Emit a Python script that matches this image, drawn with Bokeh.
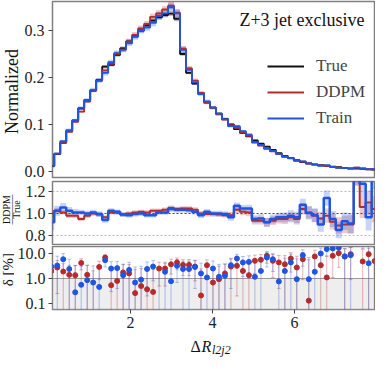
import numpy as np
from math import pi
from bokeh.plotting import figure
from bokeh.layouts import column, row
from bokeh.models import (Range1d, FixedTicker, Span, BoxAnnotation, Label,
                          Legend, LegendItem)
from bokeh.core.properties import value
from bokeh.embed import file_html
from bokeh.resources import INLINE

# ---------------- data ----------------
bin_start = -0.003
bin_width = 0.146
n_bins = 55

true_vals = [0.012, 0.037, 0.061, 0.086, 0.108, 0.134, 0.152, 0.172, 0.195, 0.223,
             0.227, 0.248, 0.262, 0.277, 0.288, 0.300, 0.311, 0.321, 0.328, 0.333,
             0.336, 0.325, 0.250, 0.210, 0.187, 0.167, 0.147, 0.136, 0.123, 0.112,
             0.100, 0.090, 0.082, 0.075, 0.066, 0.059, 0.053, 0.046, 0.039, 0.033,
             0.029, 0.024, 0.020, 0.017, 0.015, 0.0135, 0.012, 0.0104, 0.009, 0.0078,
             0.0066, 0.006, 0.0054, 0.0045, 0.004]

ratio_ddpm = [1.00, 1.025, 1.01, 0.98, 0.98, 0.95, 0.98, 1.00, 0.99, 0.965,
              1.01, 1.01, 0.99, 1.00, 1.01, 1.015, 1.01, 1.025, 1.025, 1.035,
              1.05, 1.04, 1.045, 1.045, 1.035, 1.00, 0.995, 0.995, 0.99, 0.985,
              0.985, 1.034, 1.015, 1.01, 0.935, 0.935, 0.92, 0.935, 0.95, 0.95,
              0.965, 0.95, 1.04, 1.01, 0.98, 0.955, 0.98, 0.925, 0.89, 0.90,
              0.90, 1.35, 1.06, 1.10, 1.04]

ratio_train = [0.92, 1.025, 1.055, 1.025, 1.01, 1.01, 1.00, 1.01, 0.995, 0.94,
               1.025, 1.015, 0.99, 0.985, 0.995, 1.00, 0.985, 0.985, 1.01, 1.01,
               1.04, 1.035, 1.035, 1.03, 1.015, 0.985, 1.015, 1.00, 1.00, 0.995,
               0.965, 1.07, 1.045, 1.045, 0.95, 0.955, 0.92, 0.95, 0.965, 0.965,
               0.98, 0.965, 1.08, 1.005, 0.985, 0.90, 1.14, 0.95, 0.85, 0.93,
               0.91, 1.35, 1.27, 0.965, 1.35]

unc_true = [0.025, 0.018, 0.015, 0.015, 0.015, 0.015, 0.015, 0.015, 0.015, 0.015,
            0.015, 0.015, 0.015, 0.015, 0.015, 0.015, 0.015, 0.015, 0.015, 0.015,
            0.016, 0.016, 0.016, 0.016, 0.016, 0.017, 0.017, 0.018, 0.018, 0.019,
            0.02, 0.02, 0.021, 0.022, 0.023, 0.024, 0.025, 0.027, 0.029, 0.03,
            0.032, 0.034, 0.036, 0.038, 0.04, 0.042, 0.045, 0.048, 0.05, 0.055,
            0.06, 0.065, 0.07, 0.075, 0.08]

unc_ddpm = [0.03, 0.025, 0.02, 0.02, 0.02, 0.02, 0.02, 0.02, 0.02, 0.02,
            0.02, 0.02, 0.02, 0.02, 0.02, 0.02, 0.02, 0.02, 0.02, 0.02,
            0.022, 0.022, 0.022, 0.022, 0.022, 0.022, 0.022, 0.022, 0.022, 0.022,
            0.03, 0.03, 0.03, 0.035, 0.035, 0.035, 0.04, 0.04, 0.04, 0.045,
            0.045, 0.05, 0.05, 0.055, 0.06, 0.06, 0.065, 0.07, 0.075, 0.08,
            0.085, 0.09, 0.10, 0.11, 0.12]

unc_train = [0.07, 0.045, 0.04, 0.035, 0.03, 0.025, 0.025, 0.025, 0.025, 0.025,
             0.022, 0.022, 0.022, 0.022, 0.022, 0.022, 0.022, 0.022, 0.022, 0.022,
             0.025, 0.025, 0.025, 0.025, 0.025, 0.025, 0.025, 0.025, 0.025, 0.025,
             0.03, 0.03, 0.032, 0.035, 0.035, 0.038, 0.04, 0.04, 0.042, 0.045,
             0.05, 0.052, 0.055, 0.06, 0.062, 0.065, 0.07, 0.072, 0.075, 0.08,
             0.09, 0.10, 0.11, 0.12, 0.13]

delta_ddpm = [2.0, 2.75, 1.9, 1.4, 1.36, 4.2, 1.4, 0.03, 2.9, 6.9,
              0.54, 0.8, 1.75, 1.6, 0.26, 0.5, 0.37, 0.29, 2.5, 2.5,
              3.7, 4.4, 3.5, 3.5, 3.0, 0.21, 3.4, 0.69, 0.94, 1.6,
              3.0, 3.2, 2.0, 1.36, 5.1, 5.6, 8.1, 5.1, 4.4, 3.7,
              6.3, 2.75, 5.9, 0.13, 7.6, 3.4, 1.1, 8.1, 10.3, 7.6,
              9.4, 30.0, 4.8, 9.4, 5.0]

delta_train = [3.0, 3.3, 5.9, 2.4, 0.28, 0.56, 0.86, 0.69, 0.46, 5.4,
               2.5, 2.6, 1.36, 2.2, 0.69, 0.9, 2.4, 3.0, 0.04, 1.85,
               0.78, 3.2, 2.4, 2.4, 2.9, 1.6, 1.1, 2.5, 1.17, 1.28,
               3.4, 6.3, 4.4, 4.6, 1.17, 2.0, 6.9, 5.9, 0.76, 2.0,
               4.4, 0.94, 8.6, 0.94, 1.85, 10.0, 15.0, 16.0, 17.0, 7.6,
               8.6, 30.0, 27.0, 4.1, 30.0]

x_ticks = [2, 4, 6]
top_ticks = [0.0, 0.1, 0.2, 0.3]
ratio_ticks = [0.8, 1.0, 1.2]
delta_ticks = [0.1, 1.0, 10.0]

# ---------------- derived arrays ----------------
edges = bin_start + bin_width * np.arange(n_bins + 1)
left, right = edges[:-1], edges[1:]
centers = 0.5 * (left + right)
t = np.array(true_vals)
rd, rt = np.array(ratio_ddpm), np.array(ratio_train)
ud, ut, uT = np.array(unc_ddpm), np.array(unc_train), np.array(unc_true)
ddpm_vals = t * rd
train_vals = t * rt

FONT = "Liberation Serif"
C_TRUE, C_DDPM, C_TRAIN = "#111111", "#b52b2b", "#1f55e0"
TXT = "#111111"

xr = Range1d(0.1, 7.95)


def style(p, standoff=4):
    p.outline_line_color = "#808080"
    p.outline_line_width = 1.5
    p.xgrid.visible = False
    p.ygrid.visible = False
    p.background_fill_color = "white"
    p.border_fill_color = "white"
    for ax in p.axis:
        ax.axis_line_color = None
        ax.major_tick_out = 4
        ax.major_tick_in = 0
        ax.major_tick_line_color = "#444444"
        ax.minor_tick_line_color = None
        ax.major_label_text_font = FONT
        ax.major_label_text_font_size = "16px"
        ax.major_label_text_color = "#222222"
        ax.major_label_standoff = standoff


def gutter(w, h):
    g = figure(width=w, height=h, x_range=Range1d(0, w), y_range=Range1d(0, h),
               min_border=0, min_border_left=0, min_border_right=0,
               min_border_top=0, min_border_bottom=0,
               x_axis_location=None, y_axis_location=None,
               output_backend="svg", toolbar_location=None)
    g.outline_line_color = None
    g.grid.visible = False
    g.background_fill_color = "white"
    g.border_fill_color = "white"
    return g


def gtext(g, x, y, text, size, angle=0.0, align="center", baseline="middle", fstyle="normal"):
    g.text(x=[x], y=[y], text=[text], angle=angle, text_align=align,
           text_baseline=baseline, text_font=value(FONT), text_font_size=size,
           text_font_style=fstyle, text_color=TXT)


def stepy(v):
    return np.append(v, v[-1])

# ---------------- top panel ----------------
p1 = figure(width=354, height=180, x_range=xr, y_range=Range1d(-0.0128, 0.3617),
            output_backend="svg", toolbar_location=None,
            min_border_left=28, min_border_right=1, min_border_top=1, min_border_bottom=3)
style(p1)
p1.xaxis.visible = False
p1.yaxis.ticker = FixedTicker(ticks=top_ticks)
p1.yaxis.major_label_overrides = {0.0: "0.0", 0.1: "0.1", 0.2: "0.2", 0.3: "0.3"}

for vals, unc, col in [(t, uT, C_TRUE), (ddpm_vals, ud, C_DDPM), (train_vals, ut, C_TRAIN)]:
    p1.quad(left=left, right=right, bottom=vals * (1 - unc), top=vals * (1 + unc),
            fill_color=col, fill_alpha=0.28, line_color=None)
r_true = p1.step(edges, stepy(t), mode="after", line_color=C_TRUE, line_width=1.8)
r_ddpm = p1.step(edges, stepy(ddpm_vals), mode="after", line_color=C_DDPM, line_width=1.8)
r_train = p1.step(edges, stepy(train_vals), mode="after", line_color=C_TRAIN, line_width=1.8)

legend = Legend(items=[LegendItem(label="True", renderers=[r_true]),
                       LegendItem(label="DDPM", renderers=[r_ddpm]),
                       LegendItem(label="Train", renderers=[r_train])],
                location=(215, 49))
legend.border_line_color = None
legend.background_fill_alpha = 0
legend.label_text_font = FONT
legend.label_text_font_size = "17px"
legend.glyph_width = 37
legend.glyph_height = 20
legend.label_height = 20
legend.spacing = 6
legend.padding = 0
legend.margin = 0
legend.label_standoff = 12
p1.add_layout(legend)

p1.add_layout(Label(x=312, y=158, x_units="screen", y_units="screen",
                    text="Z+3 jet exclusive", text_align="right",
                    text_baseline="alphabetic", text_font=FONT,
                    text_font_size="18px", text_color=TXT))

g1 = gutter(21, 180)
gtext(g1, 11, 88, "Normalized", "18px", angle=pi / 2)

# ---------------- ratio panel ----------------
p2 = figure(width=353, height=65, x_range=xr, y_range=Range1d(0.718, 1.291),
            output_backend="svg", toolbar_location=None,
            min_border_left=27, min_border_right=1, min_border_top=1, min_border_bottom=1)
style(p2, standoff=3)
p2.xaxis.visible = False
p2.yaxis.ticker = FixedTicker(ticks=ratio_ticks)
p2.yaxis.major_label_overrides = {0.8: "0.8", 1.0: "1.0", 1.2: "1.2"}
for yv in (0.8, 1.2):
    p2.add_layout(Span(location=yv, dimension="width", line_color="#bbbbbb",
                       line_dash="2 2", line_width=1, level="underlay"))
p2.add_layout(Span(location=1.0, dimension="width", line_color="#444444",
                   line_dash="2 2", line_width=1, level="underlay"))
p2.quad(left=left, right=right, bottom=rd - ud, top=rd + ud,
        fill_color=C_DDPM, fill_alpha=0.25, line_color=None)
p2.quad(left=left, right=right, bottom=rt - ut, top=rt + ut,
        fill_color=C_TRAIN, fill_alpha=0.25, line_color=None)
p2.step(edges, stepy(rd), mode="after", line_color=C_DDPM, line_width=2)
p2.step(edges, stepy(rt), mode="after", line_color=C_TRAIN, line_width=2.5)

g2 = gutter(22, 65)
gtext(g2, 5.6, 36, "DDPM", "10px", angle=pi / 2)
gtext(g2, 11, 36, "\u2014\u2014\u2014", "10px", angle=pi / 2)
gtext(g2, 16.4, 36, "True", "10px", angle=pi / 2)

# ---------------- delta panel ----------------
p3 = figure(width=361, height=90, x_range=xr, y_range=Range1d(0.0575, 19.05),
            y_axis_type="log", output_backend="svg", toolbar_location=None,
            min_border_left=35, min_border_right=1, min_border_top=1, min_border_bottom=26)
style(p3, standoff=3)
p3.xaxis.ticker = FixedTicker(ticks=x_ticks)
p3.yaxis.ticker = FixedTicker(ticks=delta_ticks)
p3.yaxis.major_label_overrides = {0.1: "0.1", 1.0: "1.0", 10.0: "10.0"}
p3.add_layout(BoxAnnotation(top=1.0, fill_color="#d4d4d4", fill_alpha=0.4,
                            line_color=None, level="underlay"))
p3.add_layout(Span(location=1.0, dimension="width", line_color="#999999",
                   line_width=1, level="underlay"))

cap = 0.045
for dvals, unc, col in [(np.array(delta_ddpm), ud, C_DDPM), (np.array(delta_train), ut, C_TRAIN)]:
    err = unc * 100
    lo = dvals - err
    hi = dvals + err
    lo_c = np.where(lo > 0, lo, 1e-3)
    p3.segment(x0=centers, y0=lo_c, x1=centers, y1=hi, line_color=col,
               line_alpha=0.35, line_width=1)
    p3.segment(x0=centers - cap, y0=hi, x1=centers + cap, y1=hi, line_color=col,
               line_alpha=0.35, line_width=1)
    m = lo > 0
    p3.segment(x0=(centers - cap)[m], y0=lo[m], x1=(centers + cap)[m], y1=lo[m],
               line_color=col, line_alpha=0.35, line_width=1)
p3.scatter(centers, np.array(delta_ddpm), size=5, color=C_DDPM)
p3.scatter(centers, np.array(delta_train), size=5, color=C_TRAIN)

g3 = gutter(14, 90)
gtext(g3, 7, 57, "\u03b4 [%]", "15px", angle=pi / 2)

# ---------------- x label strip ----------------
gx = gutter(375, 22)
gtext(gx, 190, 11, "\u0394", "16px", align="left", baseline="middle")
gtext(gx, 201, 11, "R", "16px", align="left", baseline="middle", fstyle="italic")
gtext(gx, 211.5, 7.5, "l2j2", "12px", align="left", baseline="middle", fstyle="italic")

layout = column(row(g1, p1, spacing=0), row(g2, p2, spacing=0),
                row(g3, p3, spacing=0), gx, spacing=0)
open("out.html", "w").write(file_html(layout, INLINE))
